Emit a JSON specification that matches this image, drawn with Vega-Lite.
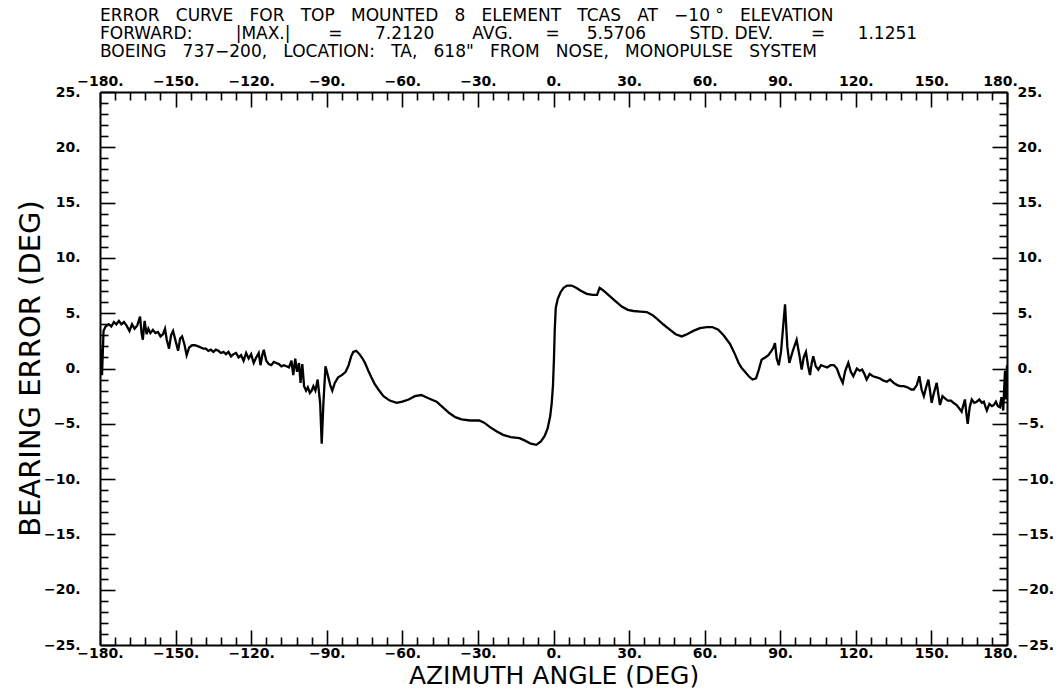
{
  "$schema": "https://vega.github.io/schema/vega-lite/v6.json",
  "width": 907,
  "height": 553,
  "autosize": "none",
  "padding": {"left": 100, "top": 92, "right": 57, "bottom": 44},
  "background": "white",
  "title": {
    "text": [
      "ERROR\u00a0\u00a0\u00a0CURVE\u00a0\u00a0\u00a0FOR\u00a0\u00a0\u00a0TOP\u00a0\u00a0\u00a0MOUNTED\u00a0\u00a0\u00a08\u00a0\u00a0\u00a0ELEMENT\u00a0\u00a0\u00a0TCAS\u00a0\u00a0\u00a0AT\u00a0\u00a0\u00a0\u221210\u00a0\u00b0\u00a0\u00a0\u00a0ELEVATION",
      "FORWARD:\u00a0\u00a0\u00a0\u00a0\u00a0\u00a0\u00a0\u00a0|MAX.|\u00a0\u00a0\u00a0\u00a0\u00a0\u00a0\u00a0=\u00a0\u00a0\u00a0\u00a0\u00a0\u00a07.2120\u00a0\u00a0\u00a0\u00a0\u00a0\u00a0\u00a0AVG.\u00a0\u00a0\u00a0\u00a0\u00a0\u00a0=\u00a0\u00a0\u00a0\u00a0\u00a05.5706\u00a0\u00a0\u00a0\u00a0\u00a0\u00a0\u00a0\u00a0STD.\u00a0DEV.\u00a0\u00a0\u00a0\u00a0\u00a0\u00a0\u00a0=\u00a0\u00a0\u00a0\u00a0\u00a0\u00a01.1251",
      "BOEING\u00a0\u00a0\u00a0737\u2212200,\u00a0\u00a0\u00a0LOCATION:\u00a0\u00a0\u00a0TA,\u00a0\u00a0\u00a0618\"\u00a0\u00a0\u00a0FROM\u00a0\u00a0\u00a0NOSE,\u00a0\u00a0\u00a0MONOPULSE\u00a0\u00a0\u00a0SYSTEM"
    ],
    "anchor": "start",
    "frame": "group",
    "font": "DejaVu Sans",
    "fontSize": 17,
    "fontWeight": "normal",
    "color": "black",
    "lineHeight": 18,
    "offset": 6
  },
  "data": {
    "values": [
      {"az": -180, "err": 0.0}, {"az": -179.6, "err": 1.8}, {"az": -179.2, "err": -0.6}, {"az": -178.6, "err": 3.4},
      {"az": -177.8, "err": 3.8}, {"az": -176.5, "err": 4.0}, {"az": -175.5, "err": 3.8}, {"az": -174.5, "err": 4.2},
      {"az": -173.5, "err": 4.0}, {"az": -172.5, "err": 4.3}, {"az": -171.5, "err": 4.0}, {"az": -170.5, "err": 4.2},
      {"az": -169.5, "err": 3.9}, {"az": -168.3, "err": 3.4}, {"az": -167.3, "err": 4.0}, {"az": -166.3, "err": 3.6},
      {"az": -165.2, "err": 3.9}, {"az": -164.1, "err": 4.7}, {"az": -163.5, "err": 3.2}, {"az": -163.0, "err": 2.6},
      {"az": -162.3, "err": 4.3}, {"az": -161.5, "err": 3.1}, {"az": -160.8, "err": 3.6}, {"az": -160.0, "err": 3.2},
      {"az": -159.0, "err": 3.5}, {"az": -158.0, "err": 3.2}, {"az": -157.0, "err": 3.3}, {"az": -156.0, "err": 2.9},
      {"az": -155.0, "err": 3.1}, {"az": -154.2, "err": 3.6}, {"az": -153.5, "err": 2.6}, {"az": -152.6, "err": 1.8},
      {"az": -151.8, "err": 3.0}, {"az": -151.0, "err": 3.4}, {"az": -150.0, "err": 2.5}, {"az": -149.0, "err": 1.6},
      {"az": -148.2, "err": 2.7}, {"az": -147.4, "err": 2.9}, {"az": -146.5, "err": 2.2}, {"az": -145.6, "err": 1.2},
      {"az": -144.6, "err": 1.9}, {"az": -143.5, "err": 2.1}, {"az": -142.3, "err": 2.1}, {"az": -141.0, "err": 2.0},
      {"az": -140.0, "err": 1.9}, {"az": -139.0, "err": 1.8}, {"az": -138.0, "err": 1.8}, {"az": -137.0, "err": 1.6},
      {"az": -136.0, "err": 1.7}, {"az": -135.0, "err": 1.5}, {"az": -134.0, "err": 1.7}, {"az": -133.0, "err": 1.6},
      {"az": -132.0, "err": 1.4}, {"az": -131.0, "err": 1.5}, {"az": -130.0, "err": 1.3}, {"az": -129.0, "err": 1.5},
      {"az": -128.0, "err": 1.1}, {"az": -127.0, "err": 1.3}, {"az": -126.0, "err": 1.4}, {"az": -125.0, "err": 1.0},
      {"az": -124.0, "err": 1.2}, {"az": -123.0, "err": 0.7}, {"az": -122.0, "err": 1.4}, {"az": -121.0, "err": 0.9},
      {"az": -120.0, "err": 1.3}, {"az": -119.0, "err": 0.5}, {"az": -118.0, "err": 1.0}, {"az": -117.0, "err": 1.4},
      {"az": -116.3, "err": 0.3}, {"az": -115.6, "err": 1.2}, {"az": -115.0, "err": 1.7}, {"az": -114.0, "err": 0.7},
      {"az": -113.0, "err": 0.4}, {"az": -112.0, "err": 0.3}, {"az": -111.0, "err": 0.6}, {"az": -110.0, "err": 0.5},
      {"az": -109.0, "err": 0.4}, {"az": -108.0, "err": 0.2}, {"az": -107.0, "err": 0.3}, {"az": -106.0, "err": 0.2},
      {"az": -105.0, "err": 0.1}, {"az": -104.0, "err": 0.7}, {"az": -103.3, "err": -0.6}, {"az": -102.5, "err": 0.9},
      {"az": -101.8, "err": -0.3}, {"az": -101.0, "err": 0.5}, {"az": -100.4, "err": -1.3}, {"az": -99.7, "err": 0.4},
      {"az": -99.0, "err": -1.6}, {"az": -98.2, "err": -2.0}, {"az": -97.5, "err": -1.7}, {"az": -96.7, "err": -2.2},
      {"az": -96.0, "err": -2.0}, {"az": -95.3, "err": -1.6}, {"az": -94.5, "err": -2.0}, {"az": -93.6, "err": -1.0},
      {"az": -92.6, "err": -3.2}, {"az": -92.0, "err": -6.8}, {"az": -91.3, "err": -3.0}, {"az": -90.5, "err": 0.2},
      {"az": -89.6, "err": -0.6}, {"az": -88.6, "err": -1.5}, {"az": -87.8, "err": -2.0}, {"az": -86.8, "err": -1.3},
      {"az": -85.5, "err": -0.8}, {"az": -84.0, "err": -0.6}, {"az": -82.5, "err": -0.3}, {"az": -81.3, "err": 0.3},
      {"az": -80.3, "err": 1.1}, {"az": -79.5, "err": 1.5}, {"az": -78.3, "err": 1.6}, {"az": -77.0, "err": 1.3},
      {"az": -75.8, "err": 0.9}, {"az": -74.8, "err": 0.5}, {"az": -73.5, "err": -0.2}, {"az": -72.3, "err": -0.8},
      {"az": -71.0, "err": -1.4}, {"az": -69.5, "err": -1.9}, {"az": -67.5, "err": -2.5}, {"az": -65.0, "err": -2.9},
      {"az": -62.2, "err": -3.1}, {"az": -60.0, "err": -3.0}, {"az": -57.5, "err": -2.8}, {"az": -55.0, "err": -2.5},
      {"az": -52.5, "err": -2.4}, {"az": -50.5, "err": -2.6}, {"az": -48.5, "err": -2.8}, {"az": -46.4, "err": -3.0},
      {"az": -44.0, "err": -3.5}, {"az": -41.5, "err": -4.0}, {"az": -39.0, "err": -4.4}, {"az": -36.5, "err": -4.6},
      {"az": -33.0, "err": -4.7}, {"az": -29.5, "err": -4.7}, {"az": -27.5, "err": -4.9}, {"az": -25.2, "err": -5.3},
      {"az": -22.5, "err": -5.7}, {"az": -20.0, "err": -6.0}, {"az": -17.0, "err": -6.2}, {"az": -13.5, "err": -6.3},
      {"az": -11.5, "err": -6.5}, {"az": -9.0, "err": -6.8}, {"az": -6.8, "err": -6.9}, {"az": -5.0, "err": -6.6},
      {"az": -3.5, "err": -6.1}, {"az": -2.3, "err": -5.4}, {"az": -1.3, "err": -4.3}, {"az": -0.7, "err": -3.1},
      {"az": -0.2, "err": -1.5}, {"az": 0.2, "err": 1.0}, {"az": 0.5, "err": 3.5}, {"az": 0.9, "err": 5.5},
      {"az": 1.7, "err": 6.3}, {"az": 2.8, "err": 6.9}, {"az": 4.0, "err": 7.3}, {"az": 5.4, "err": 7.5},
      {"az": 7.2, "err": 7.5}, {"az": 9.0, "err": 7.3}, {"az": 11.0, "err": 7.0}, {"az": 13.2, "err": 6.75},
      {"az": 15.5, "err": 6.65}, {"az": 17.3, "err": 6.65}, {"az": 18.3, "err": 7.3}, {"az": 19.5, "err": 7.1},
      {"az": 21.1, "err": 6.8}, {"az": 24.0, "err": 6.2}, {"az": 27.1, "err": 5.6}, {"az": 29.5, "err": 5.3},
      {"az": 31.7, "err": 5.2}, {"az": 34.5, "err": 5.15}, {"az": 37.0, "err": 5.1}, {"az": 39.2, "err": 4.85},
      {"az": 41.0, "err": 4.5}, {"az": 43.5, "err": 4.0}, {"az": 46.3, "err": 3.5}, {"az": 48.5, "err": 3.1},
      {"az": 50.9, "err": 2.9}, {"az": 53.0, "err": 3.1}, {"az": 55.5, "err": 3.4}, {"az": 58.1, "err": 3.65},
      {"az": 60.8, "err": 3.75}, {"az": 63.0, "err": 3.75}, {"az": 65.4, "err": 3.5}, {"az": 67.5, "err": 3.0},
      {"az": 70.1, "err": 2.2}, {"az": 72.0, "err": 1.3}, {"az": 73.5, "err": 0.5}, {"az": 74.5, "err": 0.1},
      {"az": 76.0, "err": -0.3}, {"az": 77.5, "err": -0.7}, {"az": 79.0, "err": -1.0}, {"az": 80.4, "err": -0.9},
      {"az": 81.5, "err": -0.1}, {"az": 82.6, "err": 0.8}, {"az": 84.0, "err": 1.0}, {"az": 85.3, "err": 1.2},
      {"az": 86.5, "err": 1.6}, {"az": 87.3, "err": 1.9}, {"az": 87.9, "err": 2.3}, {"az": 88.6, "err": 0.9},
      {"az": 89.4, "err": 0.3}, {"az": 90.3, "err": 1.5}, {"az": 91.9, "err": 5.8}, {"az": 92.8, "err": 2.0},
      {"az": 93.6, "err": 0.5}, {"az": 95.0, "err": 1.6}, {"az": 96.5, "err": 2.6}, {"az": 97.6, "err": 1.2},
      {"az": 98.5, "err": -0.1}, {"az": 99.3, "err": 1.0}, {"az": 100.2, "err": 1.5}, {"az": 101.0, "err": 0.3},
      {"az": 101.8, "err": -0.6}, {"az": 102.5, "err": 0.5}, {"az": 103.1, "err": 1.1}, {"az": 104.1, "err": 0.2},
      {"az": 105.1, "err": -0.1}, {"az": 106.2, "err": 0.3}, {"az": 107.3, "err": 0.2}, {"az": 108.6, "err": 0.1},
      {"az": 110.0, "err": 0.3}, {"az": 111.3, "err": 0.3}, {"az": 112.5, "err": 0.0}, {"az": 113.6, "err": -0.7},
      {"az": 114.8, "err": -1.3}, {"az": 115.8, "err": -0.2}, {"az": 117.0, "err": 0.5}, {"az": 118.0, "err": -0.3},
      {"az": 119.0, "err": -0.7}, {"az": 120.4, "err": 0.0}, {"az": 121.5, "err": -0.2}, {"az": 122.5, "err": -0.1},
      {"az": 123.4, "err": -0.5}, {"az": 124.3, "err": -1.0}, {"az": 125.5, "err": -0.5}, {"az": 126.8, "err": -0.7},
      {"az": 128.3, "err": -0.8}, {"az": 129.6, "err": -0.9}, {"az": 131.0, "err": -1.1}, {"az": 132.3, "err": -1.2},
      {"az": 133.6, "err": -1.0}, {"az": 135.0, "err": -1.3}, {"az": 136.4, "err": -1.5}, {"az": 137.6, "err": -1.6},
      {"az": 139.0, "err": -1.6}, {"az": 140.5, "err": -1.7}, {"az": 142.0, "err": -1.9}, {"az": 143.0, "err": -1.9},
      {"az": 144.2, "err": -1.5}, {"az": 145.2, "err": -0.7}, {"az": 146.1, "err": -1.9}, {"az": 147.0, "err": -2.5},
      {"az": 148.0, "err": -1.6}, {"az": 148.8, "err": -1.0}, {"az": 149.5, "err": -2.1}, {"az": 150.1, "err": -3.1},
      {"az": 151.0, "err": -2.2}, {"az": 152.1, "err": -1.3}, {"az": 152.8, "err": -2.4}, {"az": 153.4, "err": -3.3},
      {"az": 154.4, "err": -2.5}, {"az": 155.4, "err": -2.7}, {"az": 156.5, "err": -2.9}, {"az": 157.8, "err": -2.9},
      {"az": 158.7, "err": -3.1}, {"az": 160.0, "err": -3.3}, {"az": 161.0, "err": -3.6}, {"az": 162.0, "err": -3.9},
      {"az": 162.7, "err": -3.3}, {"az": 163.3, "err": -2.8}, {"az": 163.9, "err": -4.1}, {"az": 164.4, "err": -5.0},
      {"az": 165.2, "err": -3.5}, {"az": 166.0, "err": -2.8}, {"az": 167.0, "err": -3.1}, {"az": 168.0, "err": -3.0},
      {"az": 169.0, "err": -2.8}, {"az": 170.0, "err": -3.1}, {"az": 170.8, "err": -3.0}, {"az": 171.5, "err": -3.5},
      {"az": 172.0, "err": -3.8}, {"az": 173.0, "err": -3.2}, {"az": 174.0, "err": -3.4}, {"az": 174.8, "err": -3.3},
      {"az": 175.6, "err": -3.0}, {"az": 176.4, "err": -3.4}, {"az": 177.2, "err": -3.5}, {"az": 177.8, "err": -2.6},
      {"az": 178.5, "err": -3.8}, {"az": 179.2, "err": -0.2}, {"az": 179.6, "err": -2.8}, {"az": 180.0, "err": 0.3}
    ]
  },
  "layer": [
    {
      "mark": {"type": "line", "color": "black", "strokeWidth": 2.3, "clip": true},
      "encoding": {
        "x": {
          "field": "az", "type": "quantitative",
          "scale": {"domain": [-180, 180], "nice": false, "zero": false},
          "axis": {
            "orient": "bottom",
            "values": [-180,-174,-168,-162,-156,-150,-144,-138,-132,-126,-120,-114,-108,-102,-96,-90,-84,-78,-72,-66,-60,-54,-48,-42,-36,-30,-24,-18,-12,-6,0,6,12,18,24,30,36,42,48,54,60,66,72,78,84,90,96,102,108,114,120,126,132,138,144,150,156,162,168,174,180],
            "tickSize": {"condition": {"test": "datum.value % 30 === 0", "value": -15}, "value": -8},
            "labelExpr": "datum.value % 30 === 0 ? format(datum.value, 'd') + '.' : ''",
            "labelOffset": {"condition": {"test": "datum.value === 180", "value": -7}, "value": 0},
            "labelPadding": 16,
            "title": "AZIMUTH ANGLE (DEG)",
            "titleFontSize": 25,
            "titleBaseline": "bottom",
            "titleY": 43
          }
        },
        "y": {
          "field": "err", "type": "quantitative",
          "scale": {"domain": [-25, 25], "nice": false, "zero": false},
          "axis": {
            "orient": "left",
            "values": [-25,-24,-23,-22,-21,-20,-19,-18,-17,-16,-15,-14,-13,-12,-11,-10,-9,-8,-7,-6,-5,-4,-3,-2,-1,0,1,2,3,4,5,6,7,8,9,10,11,12,13,14,15,16,17,18,19,20,21,22,23,24,25],
            "tickSize": {"condition": {"test": "datum.value % 5 === 0", "value": -15}, "value": -8},
            "labelExpr": "datum.value % 5 === 0 ? format(datum.value, 'd') + '.' : ''",
            "labelPadding": 35,
            "title": "BEARING ERROR (DEG)",
            "titleFontSize": 29,
            "titleBaseline": "alphabetic",
            "titleX": -61,
            "titleY": 276
          }
        }
      }
    },
    {
      "mark": {"type": "line", "color": "black", "strokeWidth": 2.3, "opacity": 0},
      "encoding": {
        "x": {
          "field": "az", "type": "quantitative",
          "scale": {"domain": [-180, 180], "nice": false, "zero": false},
          "axis": {
            "orient": "top",
            "values": [-180,-174,-168,-162,-156,-150,-144,-138,-132,-126,-120,-114,-108,-102,-96,-90,-84,-78,-72,-66,-60,-54,-48,-42,-36,-30,-24,-18,-12,-6,0,6,12,18,24,30,36,42,48,54,60,66,72,78,84,90,96,102,108,114,120,126,132,138,144,150,156,162,168,174,180],
            "tickSize": {"condition": {"test": "datum.value % 30 === 0", "value": -15}, "value": -8},
            "labelExpr": "datum.value % 30 === 0 ? format(datum.value, 'd') + '.' : ''",
            "labelOffset": {"condition": {"test": "datum.value === 180", "value": -7}, "value": 0},
            "labelPadding": 19,
            "title": null
          }
        },
        "y": {
          "field": "err", "type": "quantitative",
          "scale": {"domain": [-25, 25], "nice": false, "zero": false},
          "axis": {
            "orient": "right",
            "values": [-25,-24,-23,-22,-21,-20,-19,-18,-17,-16,-15,-14,-13,-12,-11,-10,-9,-8,-7,-6,-5,-4,-3,-2,-1,0,1,2,3,4,5,6,7,8,9,10,11,12,13,14,15,16,17,18,19,20,21,22,23,24,25],
            "tickSize": {"condition": {"test": "datum.value % 5 === 0", "value": -15}, "value": -8},
            "labelExpr": "datum.value % 5 === 0 ? format(datum.value, 'd') + '.' : ''",
            "labelPadding": 25,
            "labelAlign": "left",
            "title": null
          }
        }
      }
    }
  ],
  "resolve": {"axis": {"x": "independent", "y": "independent"}},
  "config": {
    "view": {"stroke": null},
    "axis": {
      "grid": false,
      "domainColor": "black",
      "domainWidth": 2,
      "tickColor": "black",
      "tickWidth": 1.6,
      "labelColor": "black",
      "labelFont": "DejaVu Sans",
      "labelFontSize": 14,
      "labelFontWeight": "bold",
      "labelFlush": false,
      "labelOverlap": false,
      "labelBound": false,
      "titleColor": "black",
      "titleFont": "DejaVu Sans",
      "titleFontWeight": "normal"
    }
  }
}
